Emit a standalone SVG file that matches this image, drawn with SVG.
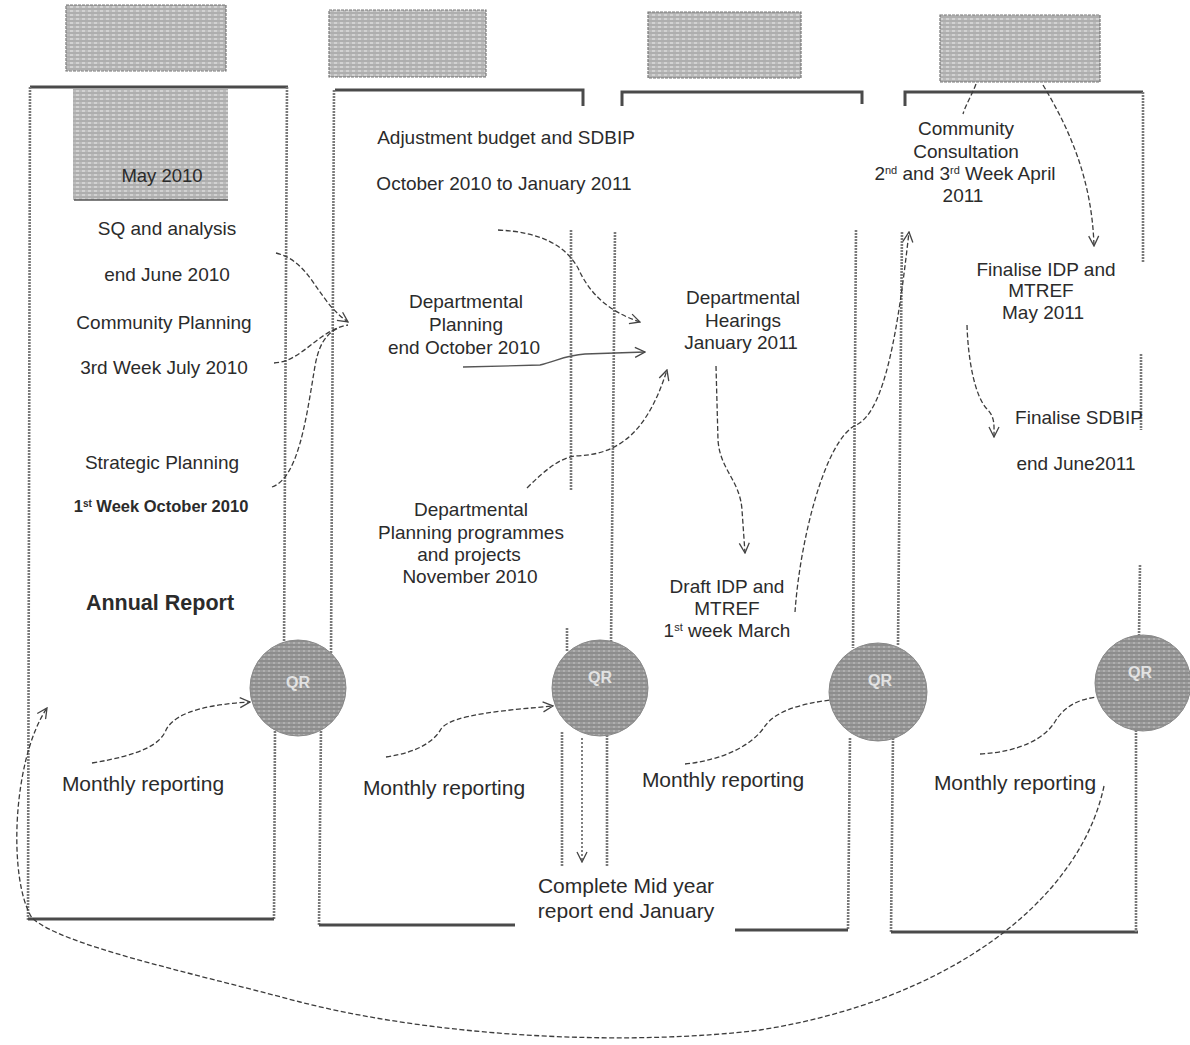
<svg xmlns="http://www.w3.org/2000/svg" width="1190" height="1045" viewBox="0 0 1190 1045">
  <defs>
    <pattern id="grain" width="6" height="4" patternUnits="userSpaceOnUse">
      <rect width="6" height="4" fill="#d2d2d2"/>
      <path d="M0 1 H6" stroke="#8a8a8a" stroke-width="1"/>
      <path d="M1 3 H4" stroke="#a5a5a5" stroke-width="1"/>
    </pattern>
    <pattern id="grainDark" width="5" height="4" patternUnits="userSpaceOnUse">
      <rect width="5" height="4" fill="#b0b0b0"/>
      <path d="M0 1 H5" stroke="#6a6a6a" stroke-width="1"/>
      <path d="M0 3 H3" stroke="#888" stroke-width="1"/>
    </pattern>
    <marker id="arr" viewBox="0 0 12 12" refX="11" refY="6" markerWidth="12" markerHeight="12" markerUnits="userSpaceOnUse" orient="auto">
      <path d="M1 1 L11 6 L1 11" fill="none" stroke="#444" stroke-width="1.3"/>
    </marker>
  </defs>
  <style>
    text { font-family: "Liberation Sans", Arial, sans-serif; fill: #2b2b2b; font-size: 19px; text-anchor: middle; }
    .big { font-size: 21px; }
    .bold { font-weight: bold; }
    .qr { fill: #e2e2e2; font-size: 16px; font-weight: bold; }
    .head { fill: url(#grain); stroke: #777; stroke-width: 1.2; stroke-dasharray: 3 1; }
    .edge { fill: none; stroke: #7a7a7a; stroke-width: 2.6; stroke-dasharray: 2 1; }
    .top { fill: none; stroke: #4a4a4a; stroke-width: 3; }
    .disc { fill: url(#grainDark); stroke: #888; stroke-width: 1; }
    .conn path { fill: none; stroke: #3c3c3c; stroke-width: 1.3; stroke-dasharray: 5 2.5; }
    .conn path.solid { stroke-dasharray: none; stroke: #555; }
    .conn path.fine { stroke-dasharray: 2 2; }
  </style>

  <rect width="1190" height="1045" fill="#ffffff"/>

  <!-- phase headers -->
  <g id="header-1"><rect class="head" x="66" y="5" width="160" height="66"/></g>
  <g id="header-2"><rect class="head" x="329" y="10" width="157" height="67"/></g>
  <g id="header-3"><rect class="head" x="648" y="12" width="153" height="66"/></g>
  <g id="header-4"><rect class="head" x="940" y="15" width="160" height="67"/></g>

  <!-- column frames -->
  <g id="frame-1">
    <path class="top" d="M30 87 L288 87"/>
    <path class="edge" d="M30 87 L28 920"/>
    <path class="edge" d="M287 87 L284 650"/>
    <path class="edge" d="M275 728 L274 919"/>
    <path class="top" d="M28 919 L274 919"/>
    <rect x="73" y="89" width="155" height="111" fill="url(#grain)"/>
    <path d="M74 200 L228 200" stroke="#555" stroke-width="1.5"/>
  </g>
  <g id="frame-2">
    <path class="top" d="M335 90 L583 90 L583 106"/>
    <path class="edge" d="M334 90 L331 655"/>
    <path class="edge" d="M321 728 L319 925"/>
    <path class="top" d="M319 925 L515 925"/>
    <path class="edge" d="M571 230 L571 490"/>
    <path class="edge" d="M567 628 L567 652"/>
  </g>
  <g id="frame-3">
    <path class="top" d="M622 106 L622 92 L862 92 L862 104"/>
    <path class="edge" d="M615 232 L611 645"/>
    <path class="edge" d="M562 732 L562 867"/>
    <path class="edge" d="M607 732 L607 867"/>
    <path class="edge" d="M856 230 L853 648"/>
    <path class="edge" d="M850 738 L848 930"/>
    <path class="top" d="M735 930 L848 930"/>
  </g>
  <g id="frame-4">
    <path class="top" d="M905 106 L905 92 L1143 92"/>
    <path class="edge" d="M902 232 L898 645"/>
    <path class="edge" d="M893 738 L891 932"/>
    <path class="top" d="M891 932 L1138 932"/>
    <path class="edge" d="M1143 92 L1143 262"/>
    <path class="edge" d="M1141 354 L1141 430"/>
    <path class="edge" d="M1140 565 L1139 636"/>
    <path class="edge" d="M1136 730 L1136 932"/>
  </g>

  <!-- connectors -->
  <g id="connectors" class="conn">
    <path d="M276 253 C312 262 316 300 348 322" marker-end="url(#arr)"/>
    <path d="M274 363 C302 362 318 330 348 325"/>
    <path d="M272 487 C298 478 306 420 314 372 C318 345 325 335 338 328"/>
    <path d="M498 230 C540 232 565 245 578 268 C590 295 610 312 640 322" marker-end="url(#arr)"/>
    <path class="solid" d="M463 367 L540 365 C555 362 565 355 585 354 L645 352" marker-end="url(#arr)"/>
    <path d="M527 488 C545 470 560 458 575 456 C612 455 645 440 667 370" marker-end="url(#arr)"/>
    <path d="M716 366 L718 440 C720 470 740 480 742 510 L745 553" marker-end="url(#arr)"/>
    <path d="M795 612 C800 540 825 440 856 425 C885 412 898 330 909 232" marker-end="url(#arr)"/>
    <path d="M976 84 C972 95 966 104 963 114"/>
    <path d="M1043 85 C1070 130 1092 180 1094 246" marker-end="url(#arr)"/>
    <path d="M967 325 C968 360 975 398 988 410 C995 418 994 425 994 437" marker-end="url(#arr)"/>
    <path class="fine" d="M582 738 L582 862" marker-end="url(#arr)"/>
    <path d="M92 763 C140 755 160 745 166 730 C176 710 215 704 250 702" marker-end="url(#arr)"/>
    <path d="M386 757 C420 752 435 740 441 729 C451 714 510 710 553 706" marker-end="url(#arr)"/>
    <path d="M685 764 C722 760 752 746 765 726 C776 711 800 704 830 700"/>
    <path d="M980 754 C1020 752 1046 738 1056 720 C1066 705 1080 699 1097 697"/>
    <path d="M1104 786 C1080 900 950 1000 760 1030 C640 1045 450 1040 300 1002 C180 970 62 945 32 918 C8 880 12 760 47 708" marker-end="url(#arr)"/>
  </g>

  <!-- quarterly review discs -->
  <g id="qr-1"><circle class="disc" cx="298" cy="688" r="48"/><text class="qr" x="298" y="688">QR</text></g>
  <g id="qr-2"><circle class="disc" cx="600" cy="688" r="48"/><text class="qr" x="600" y="683">QR</text></g>
  <g id="qr-3"><circle class="disc" cx="878" cy="692" r="49"/><text class="qr" x="880" y="686">QR</text></g>
  <g id="qr-4"><circle class="disc" cx="1143" cy="683" r="48"/><text class="qr" x="1140" y="678">QR</text></g>

  <!-- column 1 -->
  <g id="node-may2010"><text x="162" y="182" style="font-size:18.5px">May 2010</text></g>
  <g id="node-sq"><text x="167" y="235">SQ and analysis</text><text x="167" y="281">end June 2010</text></g>
  <g id="node-community-planning"><text x="164" y="329">Community Planning</text><text x="164" y="374">3rd Week July 2010</text></g>
  <g id="node-strategic"><text x="162" y="469">Strategic Planning</text>
    <text x="161" y="512" class="bold" style="font-size:16.5px">1<tspan baseline-shift="super" font-size="10">st</tspan> Week October 2010</text></g>
  <g id="node-annual"><text x="160" y="610" class="bold" style="font-size:21.5px">Annual Report</text></g>
  <g id="node-monthly-1"><text x="143" y="791" class="big">Monthly reporting</text></g>

  <!-- column 2 -->
  <g id="node-adjustment"><text x="506" y="144">Adjustment budget and SDBIP</text><text x="504" y="190">October 2010 to January 2011</text></g>
  <g id="node-dept-planning"><text x="466" y="308">Departmental</text><text x="466" y="331">Planning</text><text x="464" y="354">end October 2010</text></g>
  <g id="node-dept-programmes"><text x="471" y="516">Departmental</text><text x="471" y="539">Planning programmes</text><text x="469" y="561">and projects</text><text x="470" y="583">November 2010</text></g>
  <g id="node-monthly-2"><text x="444" y="795" class="big">Monthly reporting</text></g>
  <g id="node-midyear"><text x="626" y="893" class="big">Complete Mid year</text><text x="626" y="918" class="big">report end January</text></g>

  <!-- column 3 -->
  <g id="node-hearings"><text x="743" y="304">Departmental</text><text x="743" y="327">Hearings</text><text x="741" y="349">January 2011</text></g>
  <g id="node-draft"><text x="727" y="593">Draft IDP and</text><text x="727" y="615">MTREF</text>
    <text x="727" y="637">1<tspan baseline-shift="super" font-size="11">st</tspan> week March</text></g>
  <g id="node-monthly-3"><text x="723" y="787" class="big">Monthly reporting</text></g>

  <!-- column 4 -->
  <g id="node-consultation"><text x="966" y="135">Community</text><text x="966" y="158">Consultation</text>
    <text x="965" y="180">2<tspan baseline-shift="super" font-size="11">nd</tspan> and 3<tspan baseline-shift="super" font-size="11">rd</tspan> Week April</text><text x="963" y="202">2011</text></g>
  <g id="node-finalise-idp"><text x="1046" y="276">Finalise IDP and</text><text x="1041" y="297">MTREF</text><text x="1043" y="319">May 2011</text></g>
  <g id="node-sdbip"><text x="1079" y="424">Finalise SDBIP</text><text x="1076" y="470">end June2011</text></g>
  <g id="node-monthly-4"><text x="1015" y="790" class="big">Monthly reporting</text></g>
</svg>
